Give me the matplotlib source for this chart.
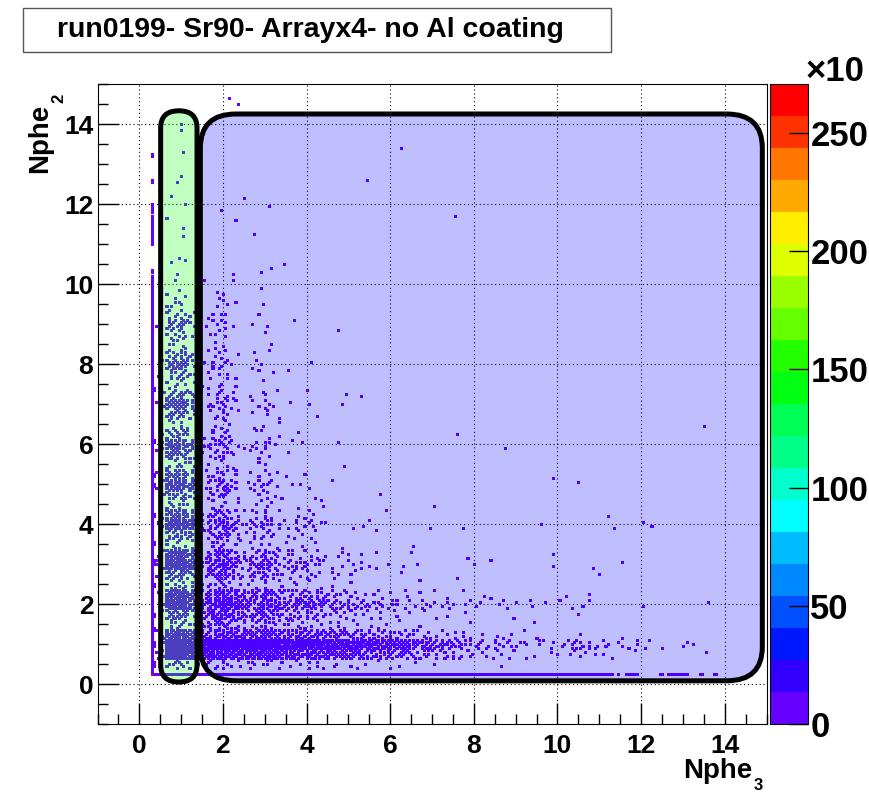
import numpy as np
import matplotlib
matplotlib.use('Agg')
import matplotlib.pyplot as plt
from matplotlib.colors import ListedColormap, BoundaryNorm
from matplotlib.patches import FancyBboxPatch, Rectangle
from matplotlib.ticker import MultipleLocator

plt.rcParams['font.family'] = ['Liberation Sans', 'DejaVu Sans']
plt.rcParams['font.weight'] = 'bold'

title = 'run0199- Sr90- Arrayx4- no Al coating'
x_label, x_sub = 'Nphe', '3'
y_label, y_sub = 'Nphe', '2'

# filled 0.05 bins per 0.25 x 0.25 cell, '.'=0, 1-9, a-p = 10-25
# rows: Nphe2 = 14.75 down to 0.5 ; columns: Nphe3 = 0.5 .. 14.25 (groups of 4 = 1 unit)
map_x0, map_y0, cell = 0.5, 0.5, 0.25
density_rows = [
    ".... ...1",
    ".... ...1",
    "",
    "..1.",
    "..1.",
    ".... .... .... .... .... ...1",
    "..1.",
    "",
    "..1.",
    "..1. .... .... .... .... 1...",
    ".1.. .... 1...",
    "..1. .... ..1.",
    ".1.. ..1. .... .... .... .... .... 1...",
    "..1. ...1",
    "..1. .... .1..",
    "...1",
    "..1. 1...",
    ".11. .... ...1 1...",
    "..1. ...1 ..1.",
    ".1.. 1..1 ..1.",
    ".22. .12.",
    ".32. .121 ..1.",
    ".442 .22. .1..",
    "1884 1231 .11. .1..",
    ".452 .22. ..1. .... .1..",
    ".33. .21. ...1",
    ".674 .231 .11.",
    "1ab6 1341 .21. ..1.",
    "1563 .231 .1.1 1...",
    ".331 1121 ..1.",
    "1674 .342 .121 ..1. ..11",
    "2cd8 1452 .231 1.1. .1..",
    "1784 .341 .121 ...1",
    ".331 .121 .111 .... .... .... .... .... .... .... .... .... .... 1...",
    "1674 1341 .121 .1.. .... .... .... 1...",
    "2ed9 1563 1341 .11. .1.. .... .... .... .1..",
    "1a95 1452 .22. 1...",
    ".342 .221 .11. .... ..1.",
    "1aa6 1342 .221 1.1. .... .... .... .... .... ..1.",
    "2ghb 2584 1342 .21. 1... .... .... .... .... .... 1...",
    "1885 1462 .231 1..1 .... .1..",
    ".442 1221 .121 .1.1 1... .... ..1.",
    "1cd8 2674 1342 .121 .... ..1. .... .... .... .... ...1",
    "2jkf 28b6 2564 2332 1.11 1... ..1. .1.. .... 1... ...1 ..11",
    "1885 1684 1342 1221 .... .1..",
    ".442 1341 1221 1.11 .1.. .... 1...",
    "2hjd 28a6 3575 3322 1211 .1.. 1... .1.. .... ..1.",
    "3lnf 3bd8 38a5 4553 2122 1111 .1.. ..1. 1... ..1. .1.. 1...",
    "1a96 28a6 3564 2332 1211 ...1 .... 1... .... .... ..1.",
    ".553 1352 2231 1211 1.1. .... .1..",
    "2jlf 5bdb 79a8 5665 4332 2211 1111 .1.1 1... ...1 .1..",
    "3mod 8fhf b7cb 7998 7665 4433 2322 2121 1211 1111 11.. ..1. .... 1...",
    "1a96 5bca 6797 5554 3332 2211 1111 .1.. ..1. .... 1...",
    ".552 4786 3564 3332 2221 1111 .1.. ..1. .... 1...",
    "3hle 9bcb abcb 9a99 8877 6554 4332 2211 1111 1... 1... 1...",
    "5ppl oppp oppo nnmm lkkj hgfe cba9 7654 4332 2224 6332 2131 1.21",
    "4ppk ghhg ghhg eedd cbba 9887 6554 3322 2211 1111 2121 .1.. .... 1...",
    "1452 2442 2332 2222 1211 1111 1.1. .... .1..",
]

# pedestal lines (one of the two channels empty)
ped_x = 0.30
ped_col_y = [(0.25, 10.2), (10.3, 10.35), (11.0, 11.7), (11.8, 12.0), (12.55, 12.6), (13.2, 13.25)]
ped_x2 = 0.35
ped_col2_y = [(0.45, 0.55), (0.95, 1.05), (1.35, 1.4), (1.7, 1.75), (2.45, 2.5), (3.0, 3.1),
              (3.5, 3.55), (4.2, 4.25), (4.95, 5.0), (5.2, 5.25), (6.05, 6.1), (7.35, 7.4)]
ped_y = 0.25
ped_row_x = [(0.3, 9.8), (9.85, 10.5), (10.55, 10.7), (10.75, 10.85), (10.9, 11.05), (11.1, 11.3),
             (11.45, 11.45), (11.65, 11.9), (12.45, 12.5), (12.65, 12.95), (13.0, 13.1),
             (13.4, 13.45), (13.75, 13.8)]
ped_counts = 3000
peak_count = 268000

cbar_ticks = [0, 50, 100, 150, 200, 250]   # x10^3
cbar_max = 270.7

palette = ['#6600ff', '#3300ff', '#0018ff', '#0050ff', '#0088ff', '#00bbff', '#00ffff',
           '#00ffcc', '#00ff88', '#00ff55', '#00ff11', '#22ff00', '#66ff00', '#99ff00',
           '#ddff00', '#ffee00', '#ffaa00', '#ff7700', '#ff3300', '#ff0000']

# order in which the 5x5 sub-bins of a cell get filled
sub_order = [12, 0, 24, 6, 18, 3, 21, 9, 15, 1, 23, 13, 11, 5, 19, 7, 17, 2, 22, 14, 10, 4, 20, 8, 16]

bw = 0.05
edges_x = 0.175 + bw * np.arange(285)
edges_y = 0.175 + bw * np.arange(295)
cx = edges_x[:-1] + bw / 2
cy = edges_y[:-1] + bw / 2
H = np.zeros((len(cy), len(cx)))

rows = [''.join(r.split()).ljust(56, '.') for r in density_rows]
for r, row in enumerate(rows):
    ri = len(rows) - 1 - r
    j0 = int(round((map_y0 + ri * cell - cell / 2 - edges_y[0]) / bw))
    for c, ch in enumerate(row):
        n = 0 if ch == '.' else int(ch, 36)
        if n == 0:
            continue
        i0 = int(round((map_x0 + c * cell - cell / 2 - edges_x[0]) / bw))
        s = (7 * ri + 11 * c) % 25
        for k in range(n):
            p = sub_order[(s + k) % 25]
            H[j0 + p // 5, i0 + p % 5] += 1


def seg_bins(centers, a, b):
    return np.where((centers > a - bw / 2) & (centers < b + bw / 2))[0]


ix = np.argmin(np.abs(cx - ped_x))
ix2 = np.argmin(np.abs(cx - ped_x2))
iy = np.argmin(np.abs(cy - ped_y))
for a, b in ped_col_y:
    H[seg_bins(cy, a, b), ix] = ped_counts
for a, b in ped_col2_y:
    H[seg_bins(cy, a, b), ix2] = 1
for a, b in ped_row_x:
    H[iy, seg_bins(cx, a, b)] = ped_counts
H[iy, ix] = peak_count

fig = plt.figure(figsize=(8.69, 7.94), dpi=100)
ax = fig.add_axes([97.5 / 869, 70 / 794, 669 / 869, 640 / 794])

cmap = ListedColormap(palette)
norm = BoundaryNorm(np.linspace(0, cbar_max * 1000, 21), 20)
mesh = ax.pcolormesh(edges_x, edges_y, np.ma.masked_equal(H, 0), cmap=cmap, norm=norm,
                     edgecolors='face', linewidth=0.4, antialiased=False, zorder=2)

green = FancyBboxPatch((0.51, 0.05), 0.87, 14.28, boxstyle='round,pad=0,rounding_size=0.43',
                       fc=(0, 1, 0, 0.25), ec='black', lw=3.6, zorder=3)
blue = FancyBboxPatch((1.46, 0.08), 13.44, 14.17, boxstyle='round,pad=0,rounding_size=0.85',
                      fc=(0, 0, 1, 0.25), ec='black', lw=3.6, zorder=3)
ax.add_patch(green)
ax.add_patch(blue)

ax.set_xlim(-1, 15)
ax.set_ylim(-1, 15)
for axis in (ax.xaxis, ax.yaxis):
    axis.set_major_locator(MultipleLocator(2))
    axis.set_minor_locator(MultipleLocator(0.5))
ax.tick_params(which='both', direction='in', top=False, right=False, width=1, labelsize=19)
ax.tick_params(which='major', length=15)
ax.tick_params(which='minor', length=7)
ax.tick_params(axis='x', pad=7)
ax.tick_params(axis='y', pad=3)
ax.set_axisbelow(True)
ax.grid(True, which='major', color='black', lw=0.8, ls=(0, (1, 2.5)))

cax = fig.add_axes([769.5 / 869, 70 / 794, 38 / 869, 640 / 794])
cb = fig.colorbar(mesh, cax=cax, ticks=[t * 1000 for t in cbar_ticks])
cb.ax.set_yticklabels([str(t) for t in cbar_ticks])
cb.ax.tick_params(direction='in', length=13.5, width=1, labelsize=25, pad=2)
cb.ax.minorticks_off()
cb.outline.set_linewidth(0.8)
fig.text(806 / 869, 1 - 81 / 794, '×10', fontsize=25)

fig.add_artist(Rectangle((23 / 869, 1 - 52 / 794), 588 / 869, 44 / 794, transform=fig.transFigure,
                         fc='white', ec='#555555', lw=1))
fig.text(310 / 869, 1 - 30 / 794, title, ha='center', va='center', fontsize=20.5)

fig.text(752 / 869, 1 - 778 / 794, x_label, ha='right', va='baseline', fontsize=20)
fig.text(754 / 869, 1 - 790 / 794, x_sub, ha='left', va='baseline', fontsize=12)
fig.text(47 / 869, 1 - 173 / 794, y_label, rotation=90, rotation_mode='anchor',
         ha='left', va='baseline', fontsize=20)
fig.text(63 / 869, 1 - 103 / 794, y_sub, rotation=90, rotation_mode='anchor',
         ha='left', va='baseline', fontsize=12)

fig.savefig('out.png', dpi=100)
